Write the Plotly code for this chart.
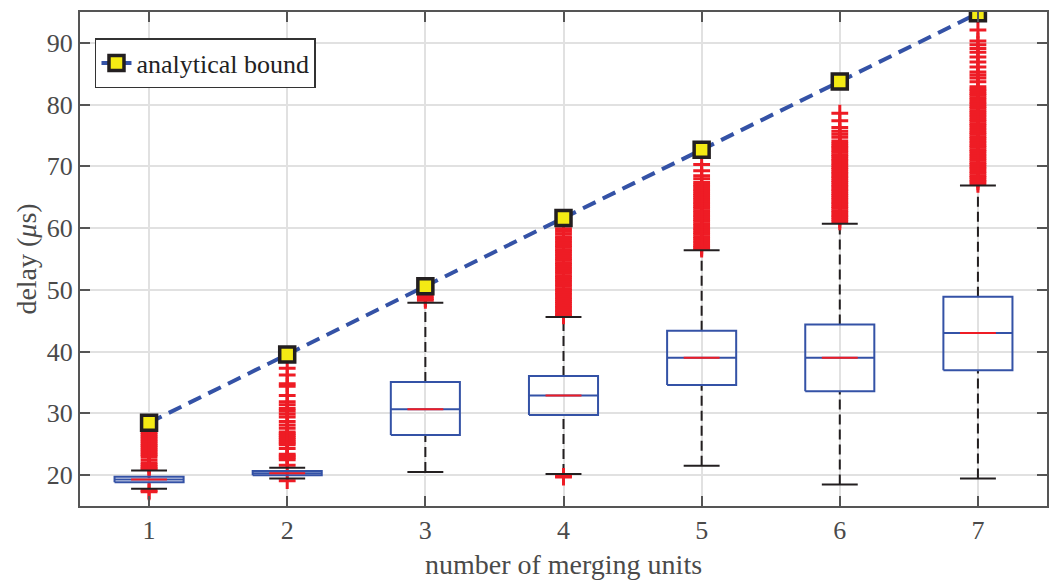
import plotly.graph_objects as go

# Number of merging units on the x axis
units = [1, 2, 3, 4, 5, 6, 7]

# Box statistics of the measured delay (µs)
lower_whisker = [17.8, 19.45, 20.5, 20.2, 21.5, 18.5, 19.45]
q1 = [18.85, 20.0, 26.5, 29.75, 34.6, 33.6, 37.0]
median = [19.3, 20.3, 30.65, 32.9, 39.0, 39.0, 43.0]
q3 = [19.75, 20.65, 35.1, 36.05, 43.4, 44.4, 48.9]
upper_whisker = [20.75, 21.2, 47.9, 45.6, 56.4, 60.7, 66.9]

# Analytical worst-case bound (µs)
bound = [28.5, 39.55, 50.6, 61.65, 72.7, 83.75, 94.8]

# Outliers per number of merging units (µs)
outliers_1 = [26.9, 26.6, 26.3, 26.0, 25.7, 25.4, 25.1, 24.8, 24.5, 24.2, 23.9, 23.6,
              23.3, 23.0, 22.5, 22.0, 21.7, 21.4, 21.1, 20.9, 17.5, 17.3]
outliers_2 = [37.3, 36.2, 34.8, 34.4, 32.9, 31.9, 31.4, 30.8, 30.4, 29.9, 29.4, 28.7,
              28.1, 27.6, 27.0, 26.7, 26.4, 26.1, 25.8, 25.5, 25.2, 24.9, 24.3, 23.4,
              23.1, 22.8, 22.5, 21.6, 19.1]
outliers_3 = [49.0, 48.6, 48.3]
outliers_4 = [59.9, 59.5, 59.1, 58.6, 58.3, 57.9, 57.6, 57.2, 56.9, 56.5, 56.2, 55.8,
              55.5, 55.1, 54.8, 54.4, 54.1, 53.7, 53.4, 53.0, 52.7, 52.3, 52.0, 51.6,
              51.3, 50.9, 50.6, 50.2, 49.9, 49.5, 49.2, 48.8, 48.5, 48.1, 47.8, 47.4,
              47.1, 46.7, 46.4, 46.0, 45.8, 19.8, 19.7]
outliers_5 = [70.3, 69.3, 68.5, 68.0, 67.4, 67.0, 66.7, 66.3, 66.0, 65.6, 65.3, 64.9,
              64.6, 64.2, 63.9, 63.5, 63.2, 62.8, 62.5, 62.1, 61.8, 61.4, 61.1, 60.7,
              60.4, 60.0, 59.7, 59.3, 59.0, 58.6, 58.3, 57.9, 57.6, 57.2, 56.9, 56.6]
outliers_6 = [78.6, 77.4, 76.3, 75.7, 75.2, 74.7, 74.1, 73.7, 73.3, 73.0, 72.6, 72.3,
              71.9, 71.6, 71.2, 70.9, 70.5, 70.2, 69.8, 69.5, 69.1, 68.8, 68.4, 68.1,
              67.7, 67.4, 67.0, 66.7, 66.3, 66.0, 65.6, 65.3, 64.9, 64.6, 64.2, 63.9,
              63.5, 63.2, 62.8, 62.5, 62.1, 61.8, 61.4, 61.0]
outliers_7 = [92.1, 90.3, 89.7, 89.1, 88.5, 87.7, 86.9, 86.1, 85.3, 84.8, 84.3, 83.7,
              82.9, 82.5, 82.2, 81.8, 81.5, 81.1, 80.8, 80.4, 80.1, 79.7, 79.4, 79.0,
              78.7, 78.3, 78.0, 77.6, 77.3, 76.9, 76.6, 76.2, 75.9, 75.5, 75.2, 74.8,
              74.5, 74.1, 73.8, 73.4, 73.1, 72.7, 72.4, 72.0, 71.7, 71.3, 71.0, 70.6,
              70.3, 69.9, 69.6, 69.2, 68.9, 68.5, 68.2, 67.8, 67.5, 67.1]
outliers = [outliers_1, outliers_2, outliers_3, outliers_4, outliers_5, outliers_6, outliers_7]

BLUE = "#3452a6"
RED = "#ee1c25"
BLACK = "#231f20"
YELLOW = "#f4ea14"
GRID = "#e1e1e1"
AXIS = "#555555"
FONT = "Liberation Serif, Times New Roman, Times, serif"

BOX_HALF = 0.25     # half width of each box
INNER_HALF = 0.13   # half width of the red median mark and whisker caps

fig = go.Figure()

# Dashed whiskers
wx, wy = [], []
for u, lo, a, b, hi in zip(units, lower_whisker, q1, q3, upper_whisker):
    wx += [u, u, None, u, u, None]
    wy += [lo, a, None, b, hi, None]
fig.add_trace(go.Scatter(x=wx, y=wy, mode="lines", showlegend=False, hoverinfo="skip",
                         line=dict(color=BLACK, width=2, dash="10px,5px")))

# Outliers as red plus signs
ox, oy = [], []
for u, vals in zip(units, outliers):
    ox += [u] * len(vals)
    oy += vals
fig.add_trace(go.Scatter(x=ox, y=oy, mode="markers", showlegend=False,
                         marker=dict(symbol="cross-thin", size=12,
                                     line=dict(color=RED, width=3))))

# Whisker caps
cx, cy = [], []
for u, lo, hi in zip(units, lower_whisker, upper_whisker):
    cx += [u - INNER_HALF, u + INNER_HALF, None, u - INNER_HALF, u + INNER_HALF, None]
    cy += [lo, lo, None, hi, hi, None]
fig.add_trace(go.Scatter(x=cx, y=cy, mode="lines", showlegend=False, hoverinfo="skip",
                         line=dict(color=BLACK, width=2)))

# Box outlines with a full-width median line
bx, by = [], []
for u, a, m, b in zip(units, q1, median, q3):
    bx += [u - BOX_HALF, u + BOX_HALF, u + BOX_HALF, u - BOX_HALF, u - BOX_HALF, None,
           u - BOX_HALF, u + BOX_HALF, None]
    by += [a, a, b, b, a, None, m, m, None]
fig.add_trace(go.Scatter(x=bx, y=by, mode="lines", showlegend=False, hoverinfo="skip",
                         line=dict(color=BLUE, width=2)))

# Red median marks
mx, my = [], []
for u, m in zip(units, median):
    mx += [u - INNER_HALF, u + INNER_HALF, None]
    my += [m, m, None]
fig.add_trace(go.Scatter(x=mx, y=my, mode="lines", showlegend=False, hoverinfo="skip",
                         line=dict(color=RED, width=2)))

# Analytical bound
fig.add_trace(go.Scatter(x=units, y=bound, mode="lines+markers", name="analytical bound",
                         line=dict(color=BLUE, width=4, dash="14px,8px"),
                         marker=dict(symbol="square", size=15, color=YELLOW,
                                     line=dict(color=BLACK, width=3.5))))

axis_common = dict(
    showline=True, linecolor=AXIS, linewidth=2, mirror="ticks",
    ticks="inside", ticklen=10, tickwidth=1.5, tickcolor=AXIS,
    showgrid=True, gridcolor=GRID, gridwidth=1.5, zeroline=False,
    tickfont=dict(family=FONT, size=26, color="#4a4a4a"),
)

fig.update_xaxes(range=[0.5, 7.5], tickvals=units, ticktext=[str(u) for u in units],
                 title=dict(text="number of merging units", standoff=10,
                            font=dict(family=FONT, size=28, color="#4a4a4a")),
                 **axis_common)
fig.update_yaxes(range=[15, 95], tickvals=[20, 30, 40, 50, 60, 70, 80, 90],
                 title=dict(text="delay (<i>μ</i>s)", standoff=2,
                            font=dict(family=FONT, size=28, color="#4a4a4a")),
                 **axis_common)

fig.update_layout(
    width=1056, height=585,
    margin=dict(l=80, r=7, t=12, b=79),
    paper_bgcolor="white", plot_bgcolor="white",
    legend=dict(x=0.0155, y=0.947, xanchor="left", yanchor="top",
                bordercolor="#333333", borderwidth=1.5, bgcolor="white",
                font=dict(family=FONT, size=26, color="#222222"),
                itemwidth=30, tracegroupgap=0),
)

fig.write_html("out.html")
